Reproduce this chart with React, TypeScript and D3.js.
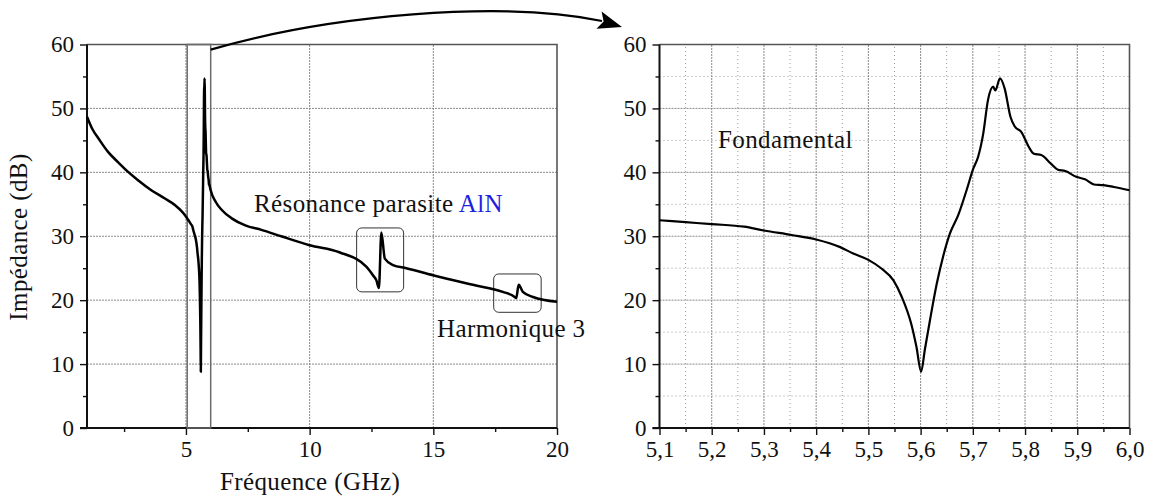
import React, { useEffect, useRef } from 'react';
import * as d3 from 'd3';

// --- Wide sweep (left panel) ---
const lowFreq = [1.0, 1.2, 1.5, 1.85, 2.25, 2.65, 3.05, 3.6, 4.15, 4.55, 4.9];
const lowDb = [48.7, 46.9, 45.1, 43.2, 41.6, 40.1, 38.8, 37.2, 35.9, 34.9, 33.6];

const highFreq = [6.2, 6.45, 6.85, 7.4, 8.05, 8.85, 10.0, 11.2, 12.3, 12.56, 12.7, 12.8, 12.9, 13.04, 13.37, 13.91, 14.99, 16.6, 17.81, 18.29, 18.35, 18.45, 18.62, 19.03, 20.0];
const highDb = [35.4, 34.1, 32.8, 31.7, 31.0, 30.0, 28.6, 27.5, 25.2, 23.9, 23.1, 21.9, 30.6, 26.5, 25.5, 25.0, 23.9, 22.4, 21.3, 20.5, 20.3, 22.4, 21.3, 20.5, 19.75];

// --- Fine sweep around the fundamental (right panel) ---
const fineFreq = [5.1, 5.15, 5.2, 5.262, 5.3, 5.353, 5.4, 5.446, 5.471, 5.5, 5.525, 5.548, 5.564, 5.582, 5.592, 5.601, 5.608, 5.618, 5.631, 5.643, 5.656, 5.672, 5.688, 5.701, 5.71, 5.72, 5.729, 5.739, 5.743, 5.752, 5.761, 5.772, 5.78, 5.793, 5.807, 5.817, 5.831, 5.849, 5.863, 5.877, 5.898, 5.915, 5.932, 5.95, 5.97, 6.0];
const fineDb = [32.5, 32.2, 31.9, 31.5, 30.9, 30.2, 29.5, 28.3, 27.3, 26.3, 24.95, 23.1, 20.5, 16.3, 12.7, 8.8, 12.2, 16.9, 22.6, 26.8, 30.4, 33.3, 37.2, 40.6, 42.4, 46.1, 51.3, 53.4, 52.8, 54.7, 53.1, 48.7, 47.2, 46.3, 44.0, 42.9, 42.7, 41.4, 40.4, 40.2, 39.3, 38.9, 38.1, 38.0, 37.7, 37.2];

// --- Axes ---
const leftXTicks = [5, 10, 15, 20];
const leftXMinor = [2.5, 7.5, 12.5, 17.5];
const leftXGrid = [5, 10, 15];
const yTicks = [0, 10, 20, 30, 40, 50, 60];
const yMinor = [5, 15, 25, 35, 45, 55];
const yGrid = [10, 20, 30, 40, 50];
const yGridMinor = [5, 15, 25, 35, 45, 55];
const rightXTicks = [5.1, 5.2, 5.3, 5.4, 5.5, 5.6, 5.7, 5.8, 5.9, 6.0];
const rightXMinor = [5.15, 5.25, 5.35, 5.45, 5.55, 5.65, 5.75, 5.85, 5.95];
const rightXGrid = [5.2, 5.3, 5.4, 5.5, 5.6, 5.7, 5.8, 5.9];

// --- Annotations (data space) ---
const zoomSpan = [5.05, 6.0];
const boxes = [
    { x0: 11.9, x1: 13.8, y0: 21.3, y1: 31.3 },
    { x0: 17.44, x1: 19.36, y0: 18.1, y1: 24.1 },
];

const FONT = 'Liberation Serif, DejaVu Serif, Times, serif';

const frCommas = d3.formatLocale({ decimal: ',', thousands: '.', grouping: [3], currency: ['', ' €'] });

const drawChart = (container: SVGSVGElement) => {
    const svg = d3.select(container);
    svg.selectAll('*').remove();

    const xL = d3.scaleLinear().domain([1, 20]).range([87, 557]);
    const xR = d3.scaleLinear().domain([5.1, 6.0]).range([659.5, 1129.5]);
    const y = d3.scaleLinear().domain([0, 60]).range([428, 44.5]);

    const wide = [
        ...lowFreq.map((f, i) => [f, lowDb[i]] as [number, number]),
        ...fineFreq.map((f, i) => [f, fineDb[i]] as [number, number]),
        ...highFreq.map((f, i) => [f, highDb[i]] as [number, number]),
    ];
    const fine = fineFreq.map((f, i) => [f, fineDb[i]] as [number, number]);

    const panel = (
        x: d3.ScaleLinear<number, number>,
        xTicks: number[],
        xMinor: number[],
        xGrid: number[],
        xMinorGrid: number[],
        yMinorGrid: number[],
        fmt: (d: number) => string,
    ) => {
        const [x0, x1] = x.range();
        const [yb, yt] = y.range();
        const g = svg.append('g');

        // minor grid
        xMinorGrid.forEach(v => {
            g.append('line').attr('x1', x(v)).attr('x2', x(v)).attr('y1', yb).attr('y2', yt)
                .attr('stroke', '#9a9a9a').attr('stroke-width', 1).attr('stroke-dasharray', '1,3');
        });
        yMinorGrid.forEach(v => {
            g.append('line').attr('x1', x0).attr('x2', x1).attr('y1', y(v)).attr('y2', y(v))
                .attr('stroke', '#9a9a9a').attr('stroke-width', 1).attr('stroke-dasharray', '1,3');
        });
        // major grid
        xGrid.forEach(v => {
            g.append('line').attr('x1', x(v)).attr('x2', x(v)).attr('y1', yb).attr('y2', yt)
                .attr('stroke', '#8a8a8a').attr('stroke-width', 1).attr('stroke-dasharray', '2,1');
        });
        yGrid.forEach(v => {
            g.append('line').attr('x1', x0).attr('x2', x1).attr('y1', y(v)).attr('y2', y(v))
                .attr('stroke', '#8a8a8a').attr('stroke-width', 1).attr('stroke-dasharray', '2,1');
        });

        // top / right frame
        g.append('path')
            .attr('d', `M${x0},${yt}H${x1}V${yb}`)
            .attr('fill', 'none').attr('stroke', '#555').attr('stroke-width', 1.6);

        // axes
        const xAxis = g.append('g').attr('transform', `translate(0,${yb})`)
            .call(d3.axisBottom(x).tickValues(xTicks).tickSize(7).tickPadding(6).tickFormat(d => fmt(d as number)));
        g.append('g').attr('transform', `translate(0,${yb})`)
            .call(d3.axisBottom(x).tickValues(xMinor).tickSize(4).tickFormat(() => ''));
        const yAxis = g.append('g').attr('transform', `translate(${x0},0)`)
            .call(d3.axisLeft(y).tickValues(yTicks).tickSize(7).tickPadding(6));
        g.append('g').attr('transform', `translate(${x0},0)`)
            .call(d3.axisLeft(y).tickValues(yMinor).tickSize(4).tickFormat(() => ''));

        g.selectAll('.domain').remove();
        g.selectAll('g').attr('font-family', null).attr('font-size', null);
        g.selectAll('.tick line').attr('stroke', '#111').attr('stroke-width', 1.4);
        [xAxis, yAxis].forEach(a => a.selectAll('text')
            .attr('font-family', FONT).attr('font-size', 23).attr('fill', '#111'));

        g.append('line').attr('x1', x0).attr('x2', x0).attr('y1', yb + 0.5).attr('y2', yt)
            .attr('stroke', '#111').attr('stroke-width', 2);
        g.append('line').attr('x1', x0 - 7).attr('x2', x1).attr('y1', yb).attr('y2', yb)
            .attr('stroke', '#111').attr('stroke-width', 2);
        return g;
    };

    // --- Left panel ---
    const gl = panel(xL, leftXTicks, leftXMinor, leftXGrid, [], [], d => String(d));

    gl.append('rect')
        .attr('x', xL(zoomSpan[0])).attr('y', y(60))
        .attr('width', xL(zoomSpan[1]) - xL(zoomSpan[0])).attr('height', y(0) - y(60))
        .attr('fill', 'none').attr('stroke', '#6a6a6a').attr('stroke-width', 1.5);

    boxes.forEach(b => {
        gl.append('rect')
            .attr('x', xL(b.x0)).attr('y', y(b.y1))
            .attr('width', xL(b.x1) - xL(b.x0)).attr('height', y(b.y0) - y(b.y1))
            .attr('rx', 5).attr('fill', 'none').attr('stroke', '#333').attr('stroke-width', 1);
    });

    const lineL = d3.line<[number, number]>().x(d => xL(d[0])).y(d => y(d[1])).curve(d3.curveMonotoneX);
    gl.append('path').attr('d', lineL(wide)).attr('fill', 'none')
        .attr('stroke', '#000').attr('stroke-width', 2.5).attr('stroke-linejoin', 'round');

    // --- Right panel ---
    const gr = panel(xR, rightXTicks, rightXMinor, rightXGrid, rightXMinor, yGridMinor, d => frCommas.format('.1f')(d));
    const lineR = d3.line<[number, number]>().x(d => xR(d[0])).y(d => y(d[1])).curve(d3.curveMonotoneX);
    gr.append('path').attr('d', lineR(fine)).attr('fill', 'none')
        .attr('stroke', '#000').attr('stroke-width', 2.2).attr('stroke-linejoin', 'round');

    // --- Titles ---
    const label = (x: number, yy: number, txt: string, anchor = 'start') =>
        svg.append('text').attr('x', x).attr('y', yy).attr('text-anchor', anchor)
            .attr('font-family', FONT).attr('font-size', 25).attr('letter-spacing', 0.4)
            .attr('fill', '#111').text(txt);

    label(310, 490, 'Fréquence (GHz)', 'middle');
    svg.append('text').attr('transform', 'translate(27,237) rotate(-90)').attr('text-anchor', 'middle')
        .attr('font-family', FONT).attr('font-size', 25).attr('letter-spacing', 0.4)
        .attr('fill', '#111').text('Impédance (dB)');

    const res = label(254, 212, 'Résonance parasite ');
    res.append('tspan').attr('fill', '#1f1fe0').text('AlN');
    label(437, 337, 'Harmonique 3');
    label(718, 148, 'Fondamental');

    // --- Zoom arrow ---
    const sx = xL(zoomSpan[1]);
    const sy = y(59.2);
    const tip: [number, number] = [622, 27];
    const base: [number, number] = [602, 21];
    svg.append('path')
        .attr('d', `M${sx},${sy}C330,15 500,0 ${base[0]},${base[1]}`)
        .attr('fill', 'none').attr('stroke', '#000').attr('stroke-width', 2.2);
    const ang = Math.atan2(tip[1] - base[1], tip[0] - base[0]);
    const len = 24;
    const hw = 9;
    const bx = tip[0] - len * Math.cos(ang);
    const by = tip[1] - len * Math.sin(ang);
    const px = -Math.sin(ang) * hw;
    const py = Math.cos(ang) * hw;
    svg.append('path')
        .attr('d', `M${tip[0]},${tip[1]}L${bx + px},${by + py}L${bx + len * 0.2 * Math.cos(ang)},${by + len * 0.2 * Math.sin(ang)}L${bx - px},${by - py}Z`)
        .attr('fill', '#000');
};

const App: React.FC = () => {
    const ref = useRef<SVGSVGElement | null>(null);

    useEffect(() => {
        document.body.style.margin = '0';
        if (ref.current) drawChart(ref.current);
    }, []);

    return <svg ref={ref} width={1152} height={501} style={{ display: 'block', background: '#fff' }} />;
};

export default App;
